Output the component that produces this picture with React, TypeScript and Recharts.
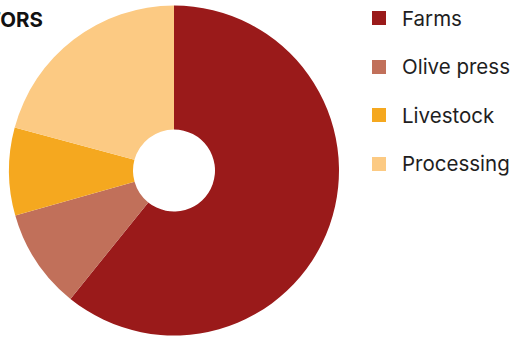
import { PieChart, Pie, Cell } from "recharts"

const sectors = ["Farms", "Olive press", "Livestock", "Processing"]
const shares = [60.8, 9.8, 8.6, 20.8]
const colors = ["#9a1a1a", "#c1705a", "#f5a81f", "#fcca83"]

const data = sectors.map((name, i) => ({ name, value: shares[i] }))

const font = "Inter, 'DejaVu Sans', sans-serif"

function SectorLegend() {
  return (
    <div style={{ position: "absolute", left: 372, top: -6, fontFamily: font }}>
      {sectors.map((name, i) => (
        <div key={name} style={{ display: "flex", alignItems: "center", height: 48.5, whiteSpace: "nowrap" }}>
          <span style={{ width: 14, height: 14, background: colors[i], display: "inline-block", marginRight: 16 }} />
          <span style={{ fontSize: 20.5, color: "#1e1e1e" }}>{name}</span>
        </div>
      ))}
    </div>
  )
}

export default function App() {
  return (
    <div style={{ position: "absolute", left: 0, top: 0, width: 512, height: 338, overflow: "hidden", background: "#fff" }}>
      <PieChart width={512} height={338} margin={{ top: 0, right: 0, bottom: 0, left: 0 }}>
        <Pie
          data={data}
          dataKey="value"
          nameKey="name"
          cx={174}
          cy={170.5}
          innerRadius={41}
          outerRadius={165}
          startAngle={90}
          endAngle={-270}
          stroke="none"
          isAnimationActive={false}
        >
          {data.map((d, i) => (
            <Cell key={d.name} fill={colors[i]} />
          ))}
        </Pie>
      </PieChart>
      <div
        style={{
          position: "absolute", left: -257, top: 7, width: 300, textAlign: "right",
          fontFamily: font, fontWeight: 700, fontSize: 20.5, color: "#111", whiteSpace: "nowrap",
        }}
      >
        SECTORS
      </div>
      <SectorLegend />
    </div>
  )
}
